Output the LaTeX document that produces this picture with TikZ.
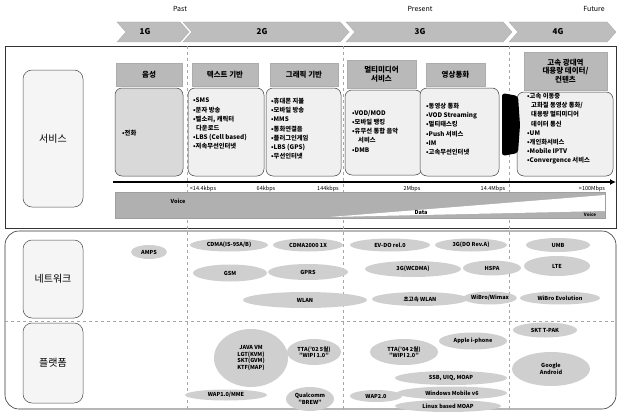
\documentclass[tikz,border=0pt]{standalone}
\usepackage{fontspec}
\setmainfont{Noto Sans CJK KR}
\usetikzlibrary{shapes.geometric,arrows.meta}
\begin{document}
\begin{tikzpicture}[x=1pt,y=-1pt,
  frame/.style={draw=black!80, line width=0.6pt},
  era/.style={draw=gray!70, dashed, line width=0.4pt},
  chev/.style={fill=gray!52, draw=gray!65, line width=0.4pt},
  chevtxt/.style={font=\bfseries\fontsize{8}{9}\selectfont, inner sep=0pt},
  time/.style={font=\fontsize{7}{8}\selectfont, inner sep=0pt},
  side/.style={draw=black!70, rounded corners=9pt, fill=gray!8, font=\fontsize{10}{11}\selectfont, inner sep=0pt, line width=0.5pt},
  hdr/.style={draw=gray!65, fill=gray!55, font=\bfseries\fontsize{7.5}{8.5}\selectfont, align=center, inner sep=0pt},
  body/.style={draw=black!75, rounded corners=7pt, fill=gray!12, line width=0.5pt, inner sep=0pt},
  item/.style={font=\bfseries\fontsize{6.3}{9.2}\selectfont, align=left, anchor=north west, inner sep=0pt},
  spd/.style={font=\fontsize{5.5}{6}\selectfont, inner sep=0pt},
  net/.style={ellipse, fill=gray!38, font=\bfseries\fontsize{5.5}{6.5}\selectfont, align=center, inner sep=0pt},
  speedarrow/.style={line width=2pt, -{Latex[length=6pt,width=6pt]}}
]
\useasboundingbox (0,0) rectangle (618,412);

% frames
\node[frame, minimum width=611, minimum height=182, inner sep=0pt] (svcframe) at (310.5,137) {};
\node[frame, rounded corners=14pt, minimum width=611, minimum height=178, inner sep=0pt] (npframe) at (310.5,320) {};
\coordinate (dl) at (5,321); \coordinate (dr) at (616,321);
\draw[era] (dl) -- (dr);

% era dividers
\coordinate (e1t) at (187,46); \coordinate (e1b) at (187,410);
\coordinate (e2t) at (343,46); \coordinate (e2b) at (343,410);
\coordinate (e3t) at (509,46); \coordinate (e3b) at (509,410);
\draw[era] (e1t) -- (e1b);
\draw[era] (e2t) -- (e2b);
\draw[era] (e3t) -- (e3b);

% time labels
\node[time] (past) at (180,9) {Past};
\node[time] (present) at (420,9) {Present};
\node[time] (future) at (594,9) {Future};

% chevrons
\draw[chev] (117,22) -- (180,22) -- (189,32) -- (180,42) -- (117,42) -- (126,32) -- cycle;
\draw[chev] (183,22) -- (340,22) -- (349,32) -- (340,42) -- (183,42) -- (192,32) -- cycle;
\draw[chev] (346,22) -- (503,22) -- (512,32) -- (503,42) -- (346,42) -- (355,32) -- cycle;
\draw[chev] (509,22) -- (607,22) -- (616,32) -- (607,42) -- (509,42) -- (518,32) -- cycle;
\node[chevtxt] (g1) at (145,32) {1G};
\node[chevtxt] (g2) at (262,32) {2G};
\node[chevtxt] (g3) at (420,32) {3G};
\node[chevtxt] (g4) at (558,32) {4G};

% side labels
\node[side, minimum width=60, minimum height=137] (sv) at (53,138.5) {서비스};
\node[side, minimum width=60, minimum height=78] (nw) at (53,279) {네트워크};
\node[side, minimum width=60, minimum height=80] (pf) at (53,363) {플랫폼};

% service boxes
\node[body, fill=gray!30, minimum width=68, minimum height=88] (b1) at (149,132) {};
\node[body, minimum width=76, minimum height=88] (b2) at (226,132) {};
\node[body, minimum width=75, minimum height=88] (b3) at (303.5,132) {};
\node[body, minimum width=77, minimum height=85] (b4) at (383.5,132.5) {};
\node[body, minimum width=79, minimum height=88] (b5) at (459.5,132) {};
\node[body, minimum width=96, minimum height=84] (b6) at (565,134) {};

\node[hdr, minimum width=66, minimum height=23] (h1) at (149,74.5) {음성};
\node[hdr, minimum width=66, minimum height=23] (h2) at (225,74.5) {텍스트 기반};
\node[hdr, minimum width=68, minimum height=23] (h3) at (304,74.5) {그래픽 기반};
\node[hdr, minimum width=69, minimum height=28] (h4) at (381.5,74) {멀티미디어\\서비스};
\node[hdr, minimum width=59, minimum height=23] (h5) at (455.5,74.5) {영상통화};
\node[hdr, minimum width=83, minimum height=38] (h6) at (565.5,71) {고속 광대역\\대용량 데이터/\\컨텐츠};

\fill[black, rounded corners=3pt] (502,93) -- (518,96) -- (520,125) -- (518,153) -- (502,156) -- cycle;

\node[item, anchor=west] (t1) at (122,133) {•전화};
\node[item] (t2) at (193,98) {•SMS\\•문자 방송\\•벨소리, 캐릭터\\\hspace*{3pt}다운로드\\•LBS (Cell based)\\•저속무선인터넷};
\node[item] (t3) at (271,98) {•휴대폰 지불\\•모바일 방송\\•MMS\\•통화연결음\\•플러그인게임\\•LBS (GPS)\\•무선인터넷};
\node[item] (t4) at (352,110) {•VOD/MOD\\•모바일 뱅킹\\•유무선 통합 음악\\\hspace*{6pt}서비스\\•DMB};
\node[item] (t5) at (426,103) {•동영상 통화\\•VOD Streaming\\•멀티태스킹\\•Push 서비스\\•IM\\•고속무선인터넷};
\node[item] (t6) at (527,93) {•고속 이동중\\\hspace*{4pt}고화질 동영상 통화/\\\hspace*{4pt}대용량 멀티미디어\\\hspace*{4pt}데이터 통신\\•UM\\•개인화서비스\\•Mobile IPTV\\•Convergence 서비스};

% speed arrow
\coordinate (sa) at (113,182); \coordinate (sb) at (616,182);
\draw[speedarrow] (sa) -- (sb);
\node[spd] (s1) at (203,188.5) {<14.4kbps};
\node[spd] (s2) at (266,188.5) {64kbps};
\node[spd] (s3) at (328,188.5) {144kbps};
\node[spd] (s4) at (412,188.5) {2Mbps};
\node[spd] (s5) at (493,188.5) {14.4Mbps};
\node[spd] (s6) at (592,188.5) {>100Mbps};

% voice / data bar
\fill[gray!62] (115,192) rectangle (605,218);
\fill[white] (330,217) -- (605,195) -- (605,211) -- cycle;
\draw[gray!75, line width=0.4pt] (115,192) rectangle (605,218);
\node[font=\bfseries\fontsize{5.5}{6}\selectfont, inner sep=0pt] (voice) at (178,201) {Voice};
\node[font=\bfseries\fontsize{5.5}{6}\selectfont, inner sep=0pt] (data) at (421,212) {Data};
\node[font=\bfseries\fontsize{4.5}{5}\selectfont, inner sep=0pt] (voice2) at (590,214.5) {Voice};

% network
\node[net, minimum width=36, minimum height=14] (amps) at (149,252) {AMPS};
\node[net, minimum width=78, minimum height=13] (cdma) at (229,245) {CDMA(IS-95A/B)};
\node[net, minimum width=70, minimum height=13] (c2k) at (308,245) {CDMA2000 1X};
\node[net, minimum width=80, minimum height=13] (evdo) at (390,245) {EV-DO rel.0};
\node[net, minimum width=72, minimum height=13] (dorev) at (471,245) {3G(DO Rev.A)};
\node[net, minimum width=64, minimum height=14] (umb) at (558,245) {UMB};
\node[net, minimum width=74, minimum height=17] (gsm) at (230,273) {GSM};
\node[net, minimum width=80, minimum height=16] (gprs) at (308,272) {GPRS};
\node[net, minimum width=96, minimum height=16] (wcdma) at (413,269) {3G(WCDMA)};
\node[net, minimum width=58, minimum height=15] (hspa) at (492,268) {HSPA};
\node[net, minimum width=66, minimum height=20] (lte) at (557,266) {LTE};
\node[net, minimum width=124, minimum height=16] (wlan) at (305,300) {WLAN};
\node[net, minimum width=96, minimum height=14] (hwlan) at (420,299) {초고속 WLAN};
\node[net, minimum width=52, minimum height=13] (wibro) at (490,298) {WiBro/Wimax};
\node[net, minimum width=80, minimum height=13] (wibroe) at (560,298) {WiBro Evolution};

% platform
\node[net, minimum width=74, minimum height=58] (java) at (251,358) {JAVA VM\\LGT(KVM)\\SKT(GVM)\\KTF(MAP)};
\node[net, minimum width=54, minimum height=26] (tta1) at (314,352) {TTA('02 5월)\\"WIPI 1.0"};
\node[net, minimum width=82, minimum height=11] (wap1) at (226,395) {WAP1.0/MME};
\node[net, minimum width=48, minimum height=24] (brew) at (310,399) {Qualcomm\\"BREW"};
\node[net, minimum width=68, minimum height=26] (tta2) at (404,352) {TTA('04 2월)\\"WIPI 2.0"};
\node[net, minimum width=68, minimum height=17] (apple) at (473,341) {Apple i-phone};
\node[net, minimum width=64, minimum height=15] (tpak) at (545,330) {SKT T-PAK};
\node[net, minimum width=78, minimum height=34] (android) at (551,369) {Google\\Android};
\node[net, minimum width=112, minimum height=14] (ssb) at (451,378) {SSB, UIQ, MOAP};
\node[net, minimum width=52, minimum height=12] (wap2) at (376,396) {WAP2.0};
\node[net, minimum width=110, minimum height=13] (winm) at (452,393) {Windows Mobile v6};
\node[net, minimum width=106, minimum height=12] (linux) at (448,406) {Linux based MOAP};
\end{tikzpicture}
\end{document}
